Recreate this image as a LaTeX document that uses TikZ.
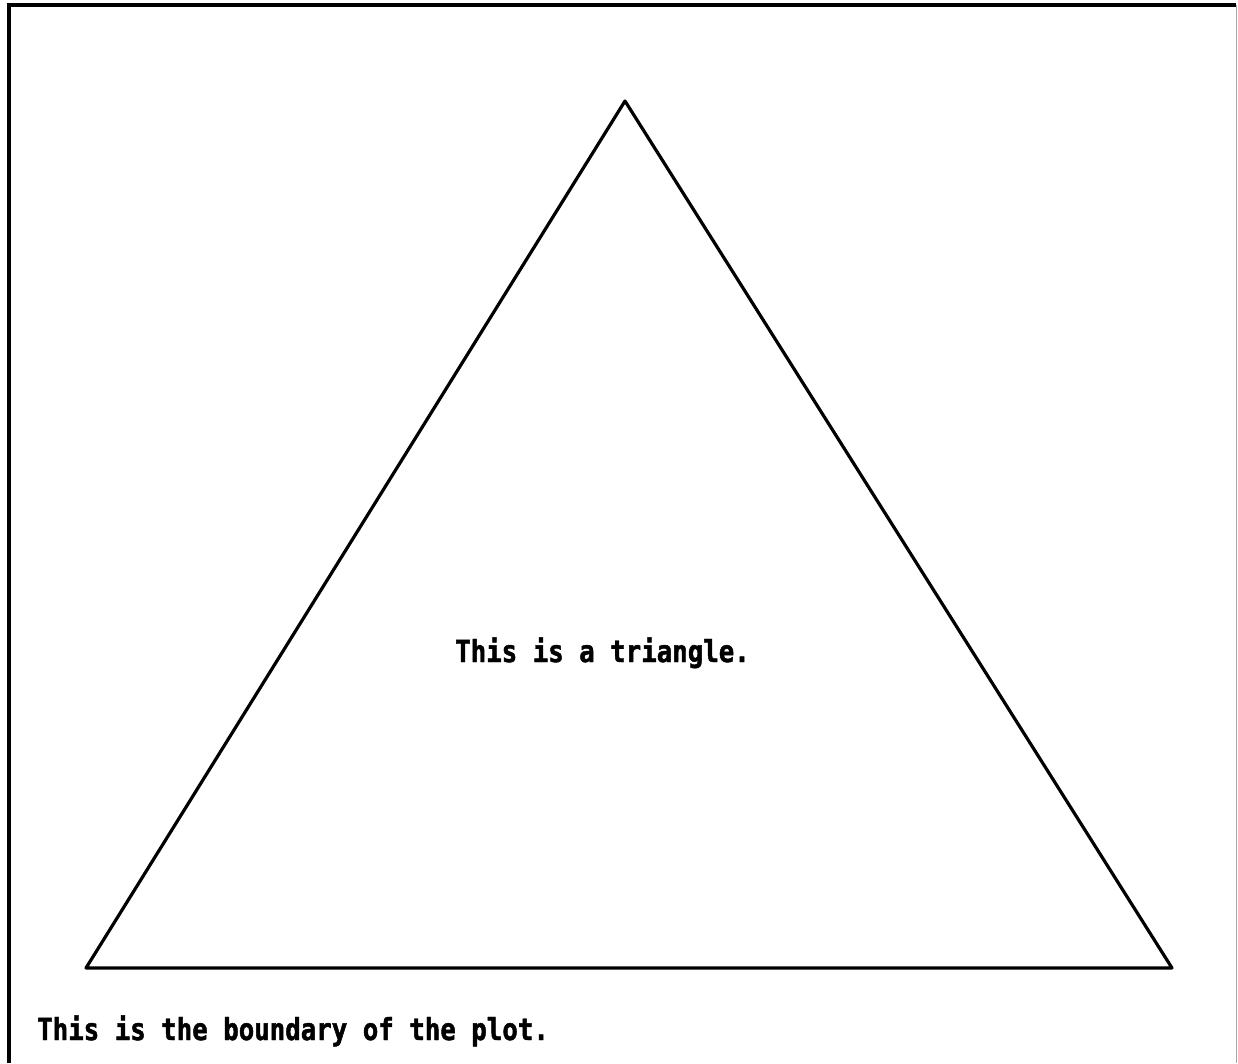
\documentclass[tikz,border=0pt]{standalone}
\usepackage{fontspec}
\newfontfamily\plotfont[FakeStretch=0.85,FakeBold=1.5]{DejaVu Sans Mono Bold}
\begin{document}
\begin{tikzpicture}[x=1pt,y=-1pt,
  plotline/.style={line width=3.2pt, line join=round, line cap=round, black},
  frameline/.style={line width=3.6pt, black},
  plottext/.style={inner sep=0pt, anchor=base west, font=\plotfont\fontsize{30.3}{36}\selectfont}]
\useasboundingbox (0,0) rectangle (1238,1063);
% boundary of the plot
\coordinate (fbl) at (9,1063);
\coordinate (ftl) at (9,5);
\coordinate (ftr) at (1236,5);
\coordinate (fbr) at (1236,1063);
\draw[frameline] (fbl) -- (ftl) -- (ftr);
\draw[line width=1pt, black!35] (ftr) -- (fbr);
% triangle
\coordinate (apex) at (625,101);
\coordinate (left) at (86,968);
\coordinate (right) at (1172,968);
\draw[plotline] (apex) -- (right) -- (left) -- cycle;
% labels
\node[plottext] (tri) at (455,662) {This is a triangle.};
\node[plottext] (bnd) at (37,1040) {This is the boundary of the plot.};
\end{tikzpicture}
\end{document}
